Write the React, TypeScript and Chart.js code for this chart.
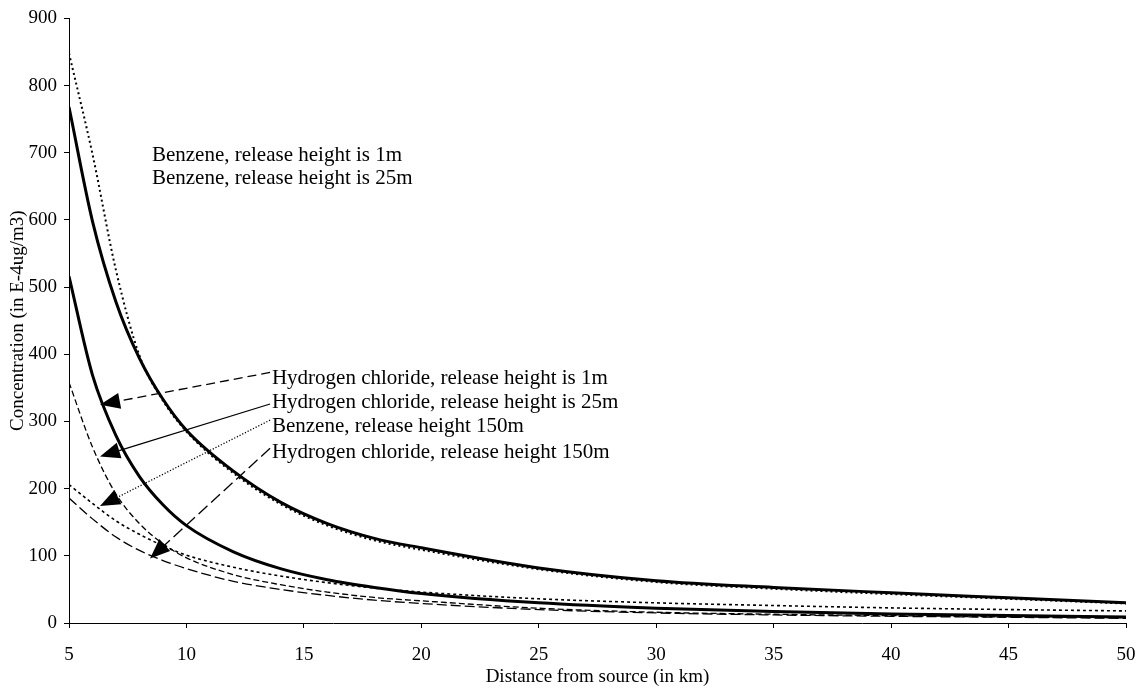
import React, { useEffect, useRef } from 'react';
import { Chart, registerables } from 'chart.js';

Chart.register(...registerables);

// Downwind distance (km) at which concentrations are tabulated
const distanceKm = [5, 6, 7, 8, 9, 10, 12, 14, 16, 18, 20, 25, 30, 35, 40, 45, 50];

// Ground-level concentration, in E-4 ug/m3
const benzene1m = [848, 698, 525, 398, 331, 285, 223, 177, 145, 123, 109, 80, 61, 51, 43, 36, 29];
const benzene25m = [768, 598, 478, 394, 333, 287, 226, 180, 148, 126, 112, 82, 63, 53, 45, 37.5, 30];
const hcl1m = [516, 369, 279, 218, 176, 145, 106, 81, 64.5, 53, 44, 30, 22, 17, 13.5, 11, 9];
const hcl25m = [358, 262, 192, 148, 118, 97, 72, 57, 46, 38, 33, 22, 16, 13, 11, 9, 8];
const benzene150m = [206, 178, 152, 132, 115, 101, 83, 70, 60, 52, 46, 36, 30, 26, 22.5, 20, 18];
const hcl150m = [186, 155, 128, 108, 93, 81, 62, 50, 41, 34, 29, 20, 15, 12, 10, 8.5, 7];

// Axis ranges and tick steps
const xRange = [5, 50];
const xStep = 5;
const yRange = [0, 900];
const yStep = 100;

const xTitle = 'Distance from source (in km)';
const yTitle = 'Concentration (in E-4ug/m3)';

const SERIF = '"Liberation Serif", "Times New Roman", serif';

type Callout = {
  text: string;
  at: [number, number];
  from?: [number, number];
  to?: [number, number];
  dash?: number[];
};

// Series captions, placed in data units; some carry a leader arrow to their curve
const callouts: Callout[] = [
  { text: 'Benzene, release height is 1m', at: [8.53, 696] },
  { text: 'Benzene, release height is 25m', at: [8.53, 661] },
  {
    text: 'Hydrogen chloride, release height is 1m',
    at: [13.64, 364],
    from: [13.56, 373],
    to: [6.32, 325],
    dash: [9, 5],
  },
  {
    text: 'Hydrogen chloride, release height is 25m',
    at: [13.64, 329],
    from: [13.56, 326],
    to: [6.32, 248],
    dash: [],
  },
  {
    text: 'Benzene, release height 150m',
    at: [13.64, 292],
    from: [13.56, 302],
    to: [6.32, 174],
    dash: [1.2, 1.8],
  },
  {
    text: 'Hydrogen chloride, release height 150m',
    at: [13.64, 254],
    from: [13.56, 260],
    to: [8.45, 96],
    dash: [12, 5],
  },
];

const calloutPlugin = {
  id: 'callouts',
  afterDatasetsDraw(chart: any) {
    const { ctx, scales } = chart;
    const xs = scales.x;
    const ys = scales.y;
    ctx.save();
    ctx.fillStyle = '#000';
    ctx.strokeStyle = '#000';
    ctx.font = `21px ${SERIF}`;
    ctx.textAlign = 'left';
    ctx.textBaseline = 'middle';
    for (const c of callouts) {
      if (c.from && c.to) {
        const x1 = xs.getPixelForValue(c.from[0]);
        const y1 = ys.getPixelForValue(c.from[1]);
        const x2 = xs.getPixelForValue(c.to[0]);
        const y2 = ys.getPixelForValue(c.to[1]);
        const ang = Math.atan2(y2 - y1, x2 - x1);
        const len = 20;
        const half = 8;
        const bx = x2 - len * Math.cos(ang);
        const by = y2 - len * Math.sin(ang);
        ctx.lineWidth = 1.3;
        ctx.setLineDash(c.dash || []);
        ctx.beginPath();
        ctx.moveTo(x1, y1);
        ctx.lineTo(bx, by);
        ctx.stroke();
        ctx.setLineDash([]);
        ctx.beginPath();
        ctx.moveTo(x2, y2);
        ctx.lineTo(bx + half * Math.sin(ang), by - half * Math.cos(ang));
        ctx.lineTo(bx - half * Math.sin(ang), by + half * Math.cos(ang));
        ctx.closePath();
        ctx.fill();
      }
      ctx.fillText(c.text, xs.getPixelForValue(c.at[0]), ys.getPixelForValue(c.at[1]));
    }
    ctx.restore();
  },
};

function series(values: number[]) {
  return values.map((v, i) => ({ x: distanceKm[i], y: v }));
}

export default function App() {
  const canvasRef = useRef<HTMLCanvasElement | null>(null);

  useEffect(() => {
    if (!canvasRef.current) return;
    const line = (label: string, values: number[], width: number, dash: number[]) => ({
      label,
      data: series(values),
      borderColor: '#000',
      backgroundColor: '#000',
      borderWidth: width,
      borderDash: dash,
      pointRadius: 0,
      fill: false,
      cubicInterpolationMode: 'monotone' as const,
    });

    const chart = new Chart(canvasRef.current, {
      type: 'line',
      data: {
        datasets: [
          line('Benzene, release height is 25m', benzene25m, 3, []),
          line('Hydrogen chloride, release height is 1m', hcl1m, 3, []),
          line('Benzene, release height is 1m', benzene1m, 2, [2, 3]),
          line('Hydrogen chloride, release height is 25m', hcl25m, 1.3, [6, 3]),
          line('Benzene, release height 150m', benzene150m, 1.6, [3, 3]),
          line('Hydrogen chloride, release height 150m', hcl150m, 1.3, [10, 4]),
        ],
      },
      options: {
        animation: false,
        responsive: false,
        devicePixelRatio: 1,
        layout: { padding: { top: 13, right: 18, left: 0, bottom: 0 } },
        plugins: {
          legend: { display: false },
          tooltip: { enabled: false },
        },
        scales: {
          x: {
            type: 'linear',
            min: xRange[0],
            max: xRange[1],
            ticks: {
              stepSize: xStep,
              color: '#000',
              font: { family: SERIF, size: 19 },
              padding: 16,
              maxRotation: 0,
            },
            grid: {
              display: true,
              drawOnChartArea: false,
              drawTicks: true,
              tickLength: 5,
              color: '#000',
              lineWidth: 1,
            },
            border: { display: true, color: '#000', width: 1 },
            title: {
              display: true,
              text: xTitle,
              color: '#000',
              font: { family: SERIF, size: 19 },
              padding: { top: 0, bottom: 5 },
            },
            afterFit: (s: any) => {
              s.height = 70;
              // end labels only overhang by half their width
              s.paddingLeft = 6;
              s.paddingRight = 10;
            },
          },
          y: {
            type: 'linear',
            min: yRange[0],
            max: yRange[1],
            ticks: {
              stepSize: yStep,
              color: '#000',
              font: { family: SERIF, size: 19 },
              padding: 7,
            },
            grid: {
              display: true,
              drawOnChartArea: false,
              drawTicks: true,
              tickLength: 5,
              color: '#000',
              lineWidth: 1,
            },
            border: { display: true, color: '#000', width: 1 },
            title: {
              display: true,
              text: yTitle,
              color: '#000',
              font: { family: SERIF, size: 19 },
              padding: { top: 7, bottom: 0 },
            },
            afterFit: (s: any) => {
              s.width = 69;
            },
          },
        },
      },
      plugins: [calloutPlugin],
    });
    return () => chart.destroy();
  }, []);

  return (
    <div style={{ position: 'absolute', left: 0, top: 0, width: 1144, height: 693, background: '#fff' }}>
      <canvas ref={canvasRef} width={1144} height={693} style={{ display: 'block' }} />
    </div>
  );
}
